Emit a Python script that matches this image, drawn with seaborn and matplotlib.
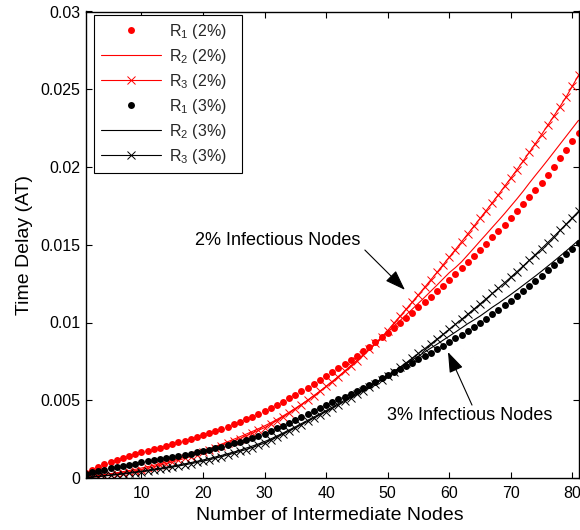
import matplotlib
matplotlib.use("Agg")
import matplotlib.pyplot as plt
import seaborn as sns
from matplotlib.ticker import FuncFormatter

# Number of intermediate nodes on the path
nodes = list(range(1, 82))

# Time delay (AT) for the three rates, 2% infectious nodes
r1_2pct = [0.00030, 0.00050, 0.00070, 0.00088, 0.00104, 0.00118, 0.00131, 0.00143, 0.00154, 0.00165,
           0.00175, 0.00186, 0.00196, 0.00207, 0.00218, 0.00229, 0.00240, 0.00252, 0.00264, 0.00276,
           0.00288, 0.00301, 0.00314, 0.00328, 0.00346, 0.00362, 0.00378, 0.00395, 0.00412, 0.00430,
           0.00449, 0.00469, 0.00490, 0.00512, 0.00534, 0.00557, 0.00580, 0.00604, 0.00629, 0.00654,
           0.00679, 0.00705, 0.00731, 0.00758, 0.00786, 0.00814, 0.00843, 0.00873, 0.00904, 0.00935,
           0.00966, 0.00998, 0.01030, 0.01063, 0.01097, 0.01131, 0.01166, 0.01201, 0.01237, 0.01275,
           0.01312, 0.01350, 0.01388, 0.01427, 0.01466, 0.01506, 0.01547, 0.01588, 0.01630, 0.01673,
           0.01717, 0.01761, 0.01806, 0.01852, 0.01899, 0.01950, 0.02002, 0.02055, 0.02109, 0.02164,
           0.02220]
r2_2pct = [0.00008, 0.00012, 0.00017, 0.00022, 0.00028, 0.00034, 0.00041, 0.00048, 0.00056, 0.00064,
           0.00073, 0.00082, 0.00092, 0.00102, 0.00113, 0.00124, 0.00136, 0.00148, 0.00161, 0.00174,
           0.00188, 0.00203, 0.00218, 0.00233, 0.00249, 0.00265, 0.00282, 0.00299, 0.00317, 0.00335,
           0.00355, 0.00376, 0.00399, 0.00423, 0.00448, 0.00474, 0.00501, 0.00529, 0.00558, 0.00588,
           0.00620, 0.00653, 0.00687, 0.00721, 0.00756, 0.00791, 0.00826, 0.00862, 0.00901, 0.00940,
           0.00976, 0.01012, 0.01049, 0.01086, 0.01124, 0.01162, 0.01201, 0.01240, 0.01280, 0.01320,
           0.01353, 0.01390, 0.01434, 0.01478, 0.01523, 0.01567, 0.01612, 0.01656, 0.01701, 0.01748,
           0.01795, 0.01844, 0.01896, 0.01946, 0.01995, 0.02045, 0.02096, 0.02147, 0.02198, 0.02249,
           0.02300]
r3_2pct = [0.00003, 0.00006, 0.00010, 0.00015, 0.00020, 0.00026, 0.00032, 0.00039, 0.00046, 0.00054,
           0.00063, 0.00072, 0.00082, 0.00092, 0.00103, 0.00114, 0.00126, 0.00138, 0.00151, 0.00164,
           0.00178, 0.00192, 0.00207, 0.00222, 0.00238, 0.00254, 0.00271, 0.00288, 0.00306, 0.00324,
           0.00346, 0.00369, 0.00393, 0.00418, 0.00444, 0.00471, 0.00499, 0.00528, 0.00558, 0.00589,
           0.00620, 0.00652, 0.00685, 0.00719, 0.00754, 0.00790, 0.00827, 0.00865, 0.00906, 0.00948,
           0.00995, 0.01040, 0.01086, 0.01132, 0.01179, 0.01226, 0.01274, 0.01322, 0.01371, 0.01420,
           0.01469, 0.01519, 0.01569, 0.01619, 0.01669, 0.01720, 0.01771, 0.01823, 0.01876, 0.01929,
           0.01983, 0.02038, 0.02094, 0.02151, 0.02209, 0.02268, 0.02328, 0.02389, 0.02451, 0.02520,
           0.02590]

# Time delay (AT) for the three rates, 3% infectious nodes
r1_3pct = [0.00026, 0.00036, 0.00045, 0.00054, 0.00062, 0.00070, 0.00078, 0.00086, 0.00093, 0.00100,
           0.00107, 0.00114, 0.00121, 0.00128, 0.00135, 0.00142, 0.00149, 0.00157, 0.00165, 0.00173,
           0.00182, 0.00191, 0.00201, 0.00211, 0.00222, 0.00233, 0.00245, 0.00257, 0.00271, 0.00285,
           0.00301, 0.00319, 0.00337, 0.00356, 0.00375, 0.00393, 0.00411, 0.00429, 0.00448, 0.00467,
           0.00486, 0.00505, 0.00524, 0.00543, 0.00562, 0.00581, 0.00600, 0.00620, 0.00640, 0.00660,
           0.00680, 0.00700, 0.00721, 0.00742, 0.00763, 0.00785, 0.00807, 0.00829, 0.00852, 0.00875,
           0.00898, 0.00922, 0.00946, 0.00971, 0.00996, 0.01023, 0.01052, 0.01081, 0.01111, 0.01141,
           0.01172, 0.01204, 0.01236, 0.01269, 0.01302, 0.01336, 0.01370, 0.01405, 0.01440, 0.01475,
           0.01510]
r2_3pct = [0.00003, 0.00007, 0.00011, 0.00015, 0.00019, 0.00024, 0.00029, 0.00034, 0.00039, 0.00044,
           0.00050, 0.00056, 0.00062, 0.00069, 0.00076, 0.00083, 0.00091, 0.00099, 0.00107, 0.00116,
           0.00125, 0.00135, 0.00145, 0.00156, 0.00167, 0.00179, 0.00192, 0.00205, 0.00219, 0.00234,
           0.00251, 0.00270, 0.00289, 0.00309, 0.00329, 0.00350, 0.00371, 0.00392, 0.00413, 0.00434,
           0.00456, 0.00478, 0.00500, 0.00522, 0.00545, 0.00568, 0.00591, 0.00614, 0.00638, 0.00662,
           0.00686, 0.00710, 0.00734, 0.00759, 0.00784, 0.00809, 0.00835, 0.00860, 0.00886, 0.00912,
           0.00938, 0.00965, 0.00992, 0.01016, 0.01041, 0.01069, 0.01098, 0.01124, 0.01152, 0.01180,
           0.01209, 0.01239, 0.01269, 0.01299, 0.01330, 0.01362, 0.01394, 0.01427, 0.01460, 0.01494,
           0.01529]
r3_3pct = [0.00002, 0.00005, 0.00009, 0.00013, 0.00017, 0.00021, 0.00025, 0.00030, 0.00035, 0.00040,
           0.00045, 0.00051, 0.00057, 0.00063, 0.00070, 0.00077, 0.00084, 0.00092, 0.00100, 0.00108,
           0.00117, 0.00127, 0.00137, 0.00148, 0.00159, 0.00171, 0.00183, 0.00196, 0.00210, 0.00224,
           0.00243, 0.00262, 0.00282, 0.00302, 0.00322, 0.00343, 0.00364, 0.00385, 0.00406, 0.00427,
           0.00448, 0.00470, 0.00492, 0.00514, 0.00537, 0.00560, 0.00583, 0.00606, 0.00630, 0.00654,
           0.00683, 0.00712, 0.00741, 0.00771, 0.00801, 0.00831, 0.00862, 0.00893, 0.00924, 0.00956,
           0.00988, 0.01020, 0.01053, 0.01086, 0.01119, 0.01153, 0.01187, 0.01221, 0.01256, 0.01291,
           0.01327, 0.01363, 0.01400, 0.01437, 0.01475, 0.01514, 0.01553, 0.01593, 0.01633, 0.01674,
           0.01715]

x_ticks = [10, 20, 30, 40, 50, 60, 70, 80]
y_ticks = [0, 0.005, 0.01, 0.015, 0.02, 0.025, 0.03]

sns.set_theme(style="white")
plt.rcParams["font.family"] = ["Liberation Sans", "DejaVu Sans"]
plt.rcParams["mathtext.fontset"] = "custom"
plt.rcParams["mathtext.rm"] = "Liberation Sans"
plt.rcParams["mathtext.it"] = "Liberation Sans:italic"
plt.rcParams["mathtext.default"] = "regular"

fig = plt.figure(figsize=(5.8, 5.3), dpi=100)
ax = fig.add_axes([86 / 580, 1 - 478 / 530, 492.5 / 580, 466.5 / 530])

series = [
    (r1_2pct, "#ff0000", "dots", r"R$_1$ (2%)"),
    (r2_2pct, "#ff0000", "line", r"R$_2$ (2%)"),
    (r3_2pct, "#ff0000", "cross", r"R$_3$ (2%)"),
    (r1_3pct, "black", "dots", r"R$_1$ (3%)"),
    (r2_3pct, "black", "line", r"R$_2$ (3%)"),
    (r3_3pct, "black", "cross", r"R$_3$ (3%)"),
]

for values, color, style, label in series:
    kw = dict(color=color, label=label, linewidth=0.8)
    if style == "dots":
        kw.update(linestyle="none", marker="o", markersize=5.0,
                  markeredgewidth=0, markerfacecolor=color, markeredgecolor=color)
    elif style == "cross":
        kw.update(linestyle="-", marker="x", markersize=5.4,
                  markeredgewidth=0.7, markeredgecolor=color)
    else:
        kw.update(linestyle="-")
    sns.lineplot(x=nodes, y=values, ax=ax, errorbar=None, legend=False, **kw)

ax.set_xlim(1, 81)
ax.set_ylim(0, 0.03)
ax.set_xticks(x_ticks)
ax.set_yticks(y_ticks)
ax.yaxis.set_major_formatter(FuncFormatter(lambda v, _: f"{v:g}"))

for side in ["left", "right", "top", "bottom"]:
    ax.spines[side].set_visible(True)
    ax.spines[side].set_color("black")
    ax.spines[side].set_linewidth(1.0)

ax.tick_params(axis="both", which="major", direction="in", length=4, width=0.8,
               top=True, right=True, bottom=True, left=True,
               colors="black", labelsize=11.5)
ax.tick_params(axis="x", pad=6)
ax.tick_params(axis="y", pad=4)

ax.set_xlabel("Number of Intermediate Nodes", fontsize=14, color="black")
ax.set_ylabel("Time Delay (AT)", fontsize=14, color="black")
ax.xaxis.set_label_coords(0.495, -0.062)
ax.yaxis.set_label_coords(-0.108, 0.5)

# Legend box spans a fixed width in the upper-left corner
leg = ax.legend(loc="upper left", bbox_to_anchor=(0.0162, 0.6515, 0.3005, 0.341),
                mode="expand", borderaxespad=0,
                frameon=True, fancybox=False, edgecolor="black", framealpha=1,
                fontsize=11.5, handlelength=3.75, handletextpad=0.5, borderpad=0.42,
                labelspacing=0.38, numpoints=1)
leg.get_frame().set_linewidth(0.8)

arrow = dict(arrowstyle="-|>,head_length=0.9,head_width=0.32", color="black",
             lw=0.8, shrinkA=0, shrinkB=0, mutation_scale=14)
ax.text(18.7, 0.0153, "2% Infectious Nodes", fontsize=13, ha="left", va="center", color="black")
ax.annotate("", xy=(52.8, 0.0121), xytext=(46.3, 0.01466), arrowprops=arrow)
ax.text(49.9, 0.00405, "3% Infectious Nodes", fontsize=13, ha="left", va="center", color="black")
ax.annotate("", xy=(59.8, 0.0081), xytext=(63.7, 0.00469), arrowprops=arrow)

fig.savefig("out.png", dpi=100)
